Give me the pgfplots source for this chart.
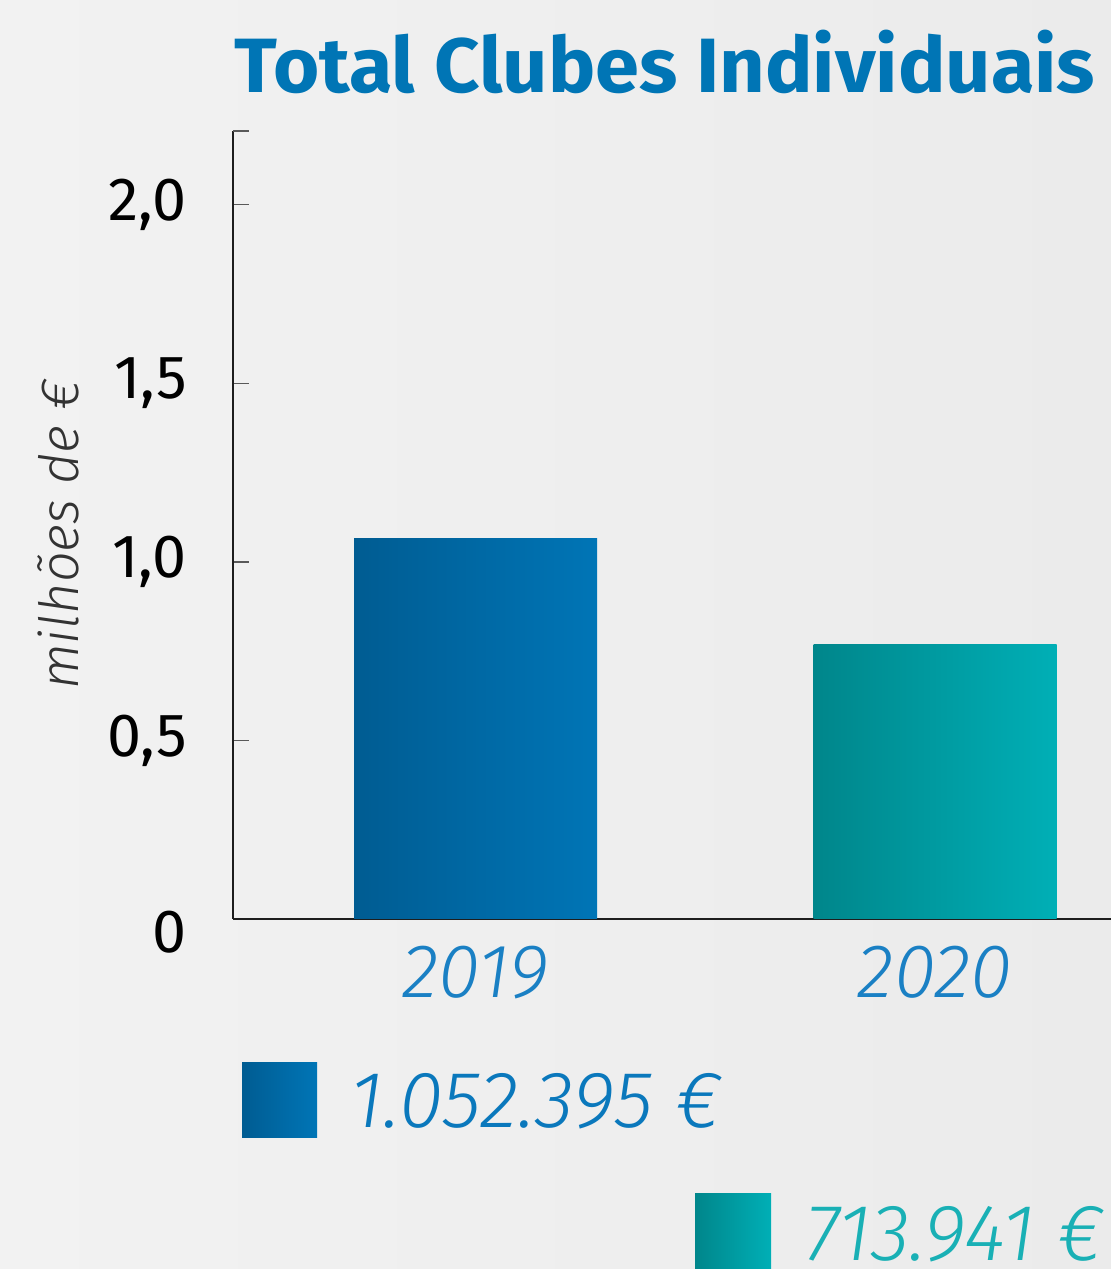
\documentclass[border=0pt]{standalone}
\usepackage{graphicx}
\usepackage{fontspec}
\setmainfont{Fira Sans}
\newfontfamily\lightfont{Fira Sans}[UprightFont=* Light, ItalicFont=* Light Italic]
\usepackage{pgfplots}
\pgfplotsset{compat=1.18}
\definecolor{bgA}{HTML}{F2F2F2}
\definecolor{bgB}{HTML}{EBEBEB}
\definecolor{titleblue}{HTML}{0075B5}
\definecolor{bluedark}{HTML}{005C92}
\definecolor{bluelight}{HTML}{0075B6}
\definecolor{tealdark}{HTML}{00868B}
\definecolor{teallight}{HTML}{00AFB6}
\definecolor{yearblue}{HTML}{1A80C4}
\definecolor{legblue}{HTML}{0A78BC}
\definecolor{legteal}{HTML}{19B0B5}
\definecolor{axisc}{HTML}{1E1E1E}
\definecolor{ylab}{HTML}{333333}
\begin{document}
\begin{tikzpicture}
\useasboundingbox (0,0) rectangle (555.5pt,634.5pt);
\clip (0,0) rectangle (555.5pt,634.5pt);
\fill[left color=bgA, right color=bgB] (0,0) rectangle (555.5pt,634.5pt);
\begin{axis}[
  at={(116.5pt,175pt)}, anchor=south west,
  scale only axis, width=439pt, height=394pt,
  xmin=-0.528, xmax=1.383, ymin=0, ymax=2.207,
  axis lines*=left,
  axis line style={draw=axisc, line width=0.8pt},
  xtick={0,1}, xticklabels={2019,2020},
  xtick style={draw=none},
  xticklabel style={font=\lightfont\itshape\fontsize{38}{38}\selectfont, text=yearblue, anchor=base, yshift=-31.5pt},
  ytick={0,0.5,1,1.5,2},
  yticklabels={{\raisebox{-6.5pt}[\height][0pt]{0}},{0,5},{1,0},{1,5},{2,0}},
  extra y ticks={2.207}, extra y tick labels={},
  ytick align=inside,
  major tick length=8pt,
  ytick style={draw=black!65, line width=0.6pt},
  yticklabel style={font=\fontsize{30.5}{30.5}\selectfont, text=black, anchor=east, inner sep=0pt, xshift=-23pt},
  ybar, bar width=121.5pt,
  clip=false,
]
\addplot[draw=none, left color=bluedark, right color=bluelight, bar shift=0pt] coordinates {(0,1.067)};
\addplot[draw=none, left color=tealdark, right color=teallight, bar shift=0pt] coordinates {(1,0.770)};
\end{axis}
\node[text=titleblue, font=\bfseries\fontsize{38.5}{38.5}\selectfont] at (332.5pt,603.5pt) {\scalebox{1.03}[1]{Total Clubes Individuais}};
\node[text=ylab, rotate=90, font=\lightfont\itshape\fontsize{27}{27}\selectfont] at (29pt,367pt) {milhões de €};
\fill[left color=bluedark, right color=bluelight] (121pt,65.5pt) rectangle (158.5pt,103pt);
\node[anchor=base west, inner sep=0pt, text=legblue, font=\lightfont\itshape\fontsize{40}{40}\selectfont] at (175pt,70.5pt) {1.052.395 €};
\fill[left color=tealdark, right color=teallight] (347.5pt,0pt) rectangle (385.5pt,37.5pt);
\node[anchor=base west, inner sep=0pt, text=legteal, font=\lightfont\itshape\fontsize{40}{40}\selectfont] at (402.5pt,4.5pt) {713.941 €};
\end{tikzpicture}
\end{document}
